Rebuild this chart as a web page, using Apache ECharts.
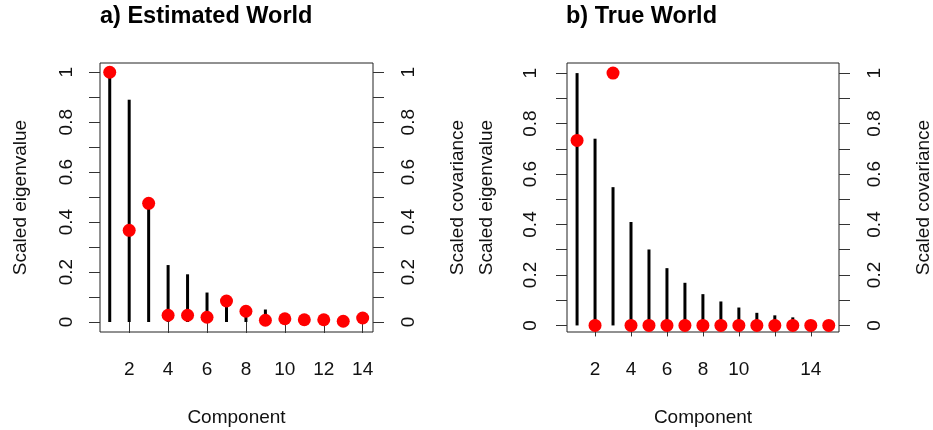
<!DOCTYPE html>
<html>
<head>
<meta charset="utf-8">
<script src="https://cdn.jsdelivr.net/npm/echarts@6/dist/echarts.min.js"></script>
<style>html,body{margin:0;padding:0;background:#fff}#c{width:933px;height:430px}</style>
</head>
<body>
<div id="c"></div>
<script>
// ---- data ----
const titleA = "a) Estimated World";
const titleB = "b) True World";
const componentsA = [1,2,3,4,5,6,7,8,9,10,11,12,13,14];
const eigenA = [1.0, 0.89, 0.47, 0.228, 0.191, 0.118, 0.075, 0.035, 0.05, 0.012, 0.006, 0.004, 0.003, 0.002];
const covA   = [1.0, 0.367, 0.475, 0.027, 0.027, 0.019, 0.084, 0.043, 0.007, 0.013, 0.009, 0.009, 0.003, 0.016];
const componentsB = [1,2,3,4,5,6,7,8,9,10,11,12,13,14,15];
const eigenB = [1.0, 0.74, 0.548, 0.41, 0.301, 0.227, 0.169, 0.124, 0.095, 0.071, 0.05, 0.04, 0.032, 0.02, 0.01];
const covB   = [0.733, 0, 1.0, 0, 0, 0, 0, 0, 0, 0, 0, 0, 0, 0, 0];
const yTicks = [0,0.1,0.2,0.3,0.4,0.5,0.6,0.7,0.8,0.9,1];
const yLabels = [0,0.2,0.4,0.6,0.8,1];
const xTicksA = [2,4,6,8,10,12,14];
const xLabelsA = [2,4,6,8,10,12,14];
const xTicksB = [2,4,6,8,10,12,14];
const xLabelsB = [2,4,6,8,10,14];

const FONT = "'Liberation Sans', Arial, sans-serif";
const TXT = '#111';
const TICK = '#333';

function pairs(xs, ys){ return xs.map((x,i)=>[x, ys[i]]); }

function xAxis(gi, min, max, ticks, labels){
  return {
    type:'value', gridIndex:gi, min:min, max:max,
    axisLine:{show:false},
    splitLine:{show:false},
    axisTick:{show:true, customValues:ticks, length:11, lineStyle:{color:TICK, width:1}},
    axisLabel:{show:true, customValues:labels, margin:28, fontFamily:FONT, fontSize:19, color:TXT},
    name:'Component', nameLocation:'middle', nameGap:76,
    nameTextStyle:{fontFamily:FONT, fontSize:19, color:TXT}
  };
}
function yAxis(gi, pos, min, max, name, gap, margin){
  return {
    type:'value', gridIndex:gi, position:pos, min:min, max:max,
    axisLine:{show:false},
    splitLine:{show:false},
    axisTick:{show:true, customValues:yTicks, length:11, lineStyle:{color:TICK, width:1}},
    axisLabel:{show:true, customValues:yLabels, rotate:90, margin:margin, fontFamily:FONT, fontSize:19, color:TXT,
      formatter:v=>String(+v.toFixed(1))},
    name:name, nameLocation:'middle', nameRotate:90, nameGap:gap,
    nameTextStyle:{fontFamily:FONT, fontSize:19, color:TXT}
  };
}

const chart = echarts.init(document.getElementById('c'), null, {renderer:'canvas'});
chart.setOption({
  animation:false,
  backgroundColor:'#fff',
  title:[
    {text:titleA, left:95, top:0, textStyle:{fontFamily:FONT, fontSize:23.5, fontWeight:'bold', color:'#000'}},
    {text:titleB, left:561, top:0, textStyle:{fontFamily:FONT, fontSize:23.5, fontWeight:'bold', color:'#000'}}
  ],
  grid:[
    {left:100, top:63, width:273, height:269, outerBoundsMode:'none', containLabel:false, show:true, borderColor:'#222', borderWidth:1, backgroundColor:'transparent'},
    {left:567, top:63, width:272, height:269, outerBoundsMode:'none', containLabel:false, show:true, borderColor:'#222', borderWidth:1, backgroundColor:'transparent'}
  ],
  xAxis:[
    xAxis(0, 0.5, 14.53, xTicksA, xLabelsA),
    xAxis(1, 0.44, 15.57, xTicksB, xLabelsB)
  ],
  yAxis:[
    yAxis(0,'left',-0.04,1.037,'Scaled eigenvalue',70,24),
    yAxis(0,'right',-0.04,1.037,'Scaled covariance',75,26),
    yAxis(1,'left',-0.026,1.04,'Scaled eigenvalue',71,27),
    yAxis(1,'right',-0.026,1.04,'Scaled covariance',75,26)
  ],
  series:[
    {type:'bar', xAxisIndex:0, yAxisIndex:0, data:pairs(componentsA, eigenA), barWidth:3, itemStyle:{color:'#000'}, silent:true},
    {type:'scatter', xAxisIndex:0, yAxisIndex:1, data:pairs(componentsA, covA), symbol:'circle', symbolSize:13, itemStyle:{color:'#ff0000', opacity:1}, silent:true},
    {type:'bar', xAxisIndex:1, yAxisIndex:2, data:pairs(componentsB, eigenB), barWidth:3, itemStyle:{color:'#000'}, silent:true},
    {type:'scatter', xAxisIndex:1, yAxisIndex:3, data:pairs(componentsB, covB), symbol:'circle', symbolSize:13, itemStyle:{color:'#ff0000', opacity:1}, silent:true}
  ]
});
</script>
</body>
</html>
